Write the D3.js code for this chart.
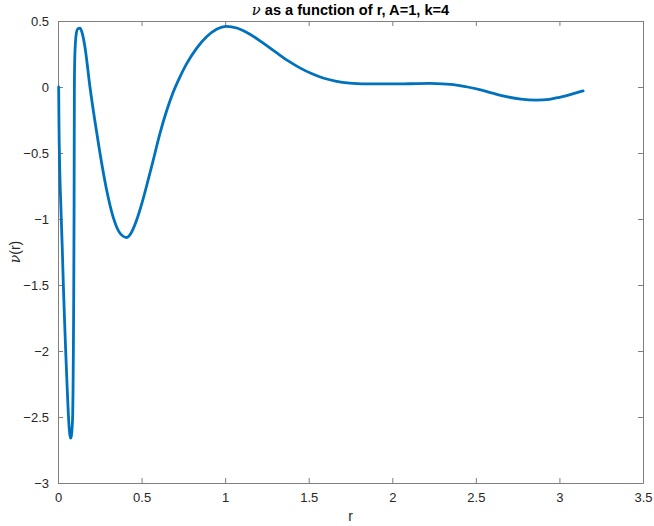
<!DOCTYPE html>
<html><head><meta charset="utf-8">
<script src="https://cdn.jsdelivr.net/npm/d3@7"></script>
<style>
body{margin:0;background:#fff;}
text{font-family:"Liberation Sans",Arial,Helvetica,sans-serif;}
</style></head>
<body><svg id="c" width="654" height="526"></svg>
<script>
const rValues = [0.004,0.006,0.010,0.017,0.025,0.032,0.039,0.046,0.054,0.062,0.068,0.072,0.076,0.080,0.084,0.088,0.090,0.092,0.094,0.095,0.096,0.097,0.098,0.100,0.104,0.110,0.118,0.1315,0.142,0.161,0.191,0.221,0.251,0.291,0.331,0.371,0.411,0.440,0.470,0.500,0.530,0.570,0.610,0.650,0.689,0.729,0.769,0.829,0.889,0.949,1.008,1.070,1.148,1.230,1.307,1.380,1.447,1.520,1.586,1.660,1.745,1.850,1.925,2.044,2.150,2.224,2.300,2.383,2.450,2.522,2.600,2.682,2.770,2.861,2.940,3.000,3.070,3.1416];
const nuValues = [0.000,-0.300,-0.600,-0.900,-1.200,-1.500,-1.760,-2.000,-2.250,-2.480,-2.600,-2.645,-2.660,-2.645,-2.590,-2.480,-2.300,-2.000,-1.600,-1.300,-1.000,-0.500,0.000,0.200,0.330,0.410,0.440,0.446,0.420,0.305,0.002,-0.260,-0.500,-0.780,-0.990,-1.108,-1.140,-1.100,-1.010,-0.890,-0.750,-0.553,-0.351,-0.180,-0.040,0.075,0.175,0.293,0.381,0.437,0.460,0.447,0.400,0.330,0.260,0.196,0.145,0.100,0.068,0.045,0.030,0.024,0.023,0.023,0.026,0.027,0.024,0.015,0.000,-0.020,-0.047,-0.073,-0.092,-0.099,-0.093,-0.078,-0.056,-0.030];
const xTicks = [0,0.5,1,1.5,2,2.5,3,3.5];
const yTicks = [-3,-2.5,-2,-1.5,-1,-0.5,0,0.5];
const titleText = " as a function of r, A=1, k=4";
const xLabel = "r";

const svg = d3.select("#c");
const L=58,R=643,T=21,B=483;
const x = d3.scaleLinear().domain([0,3.5]).range([L,R]);
const y = d3.scaleLinear().domain([-3,0.5]).range([B,T]);
const axisColor="#7f7f7f", textColor="#262626";

svg.append("rect").attr("width",654).attr("height",526).attr("fill","#fff");

const gx = svg.append("g").attr("transform",`translate(0,${B})`)
  .call(d3.axisBottom(x).tickValues(xTicks).tickSizeInner(-5).tickSizeOuter(0).tickPadding(10).tickFormat(d3.format("")));
const gxt = svg.append("g").attr("transform",`translate(0,${T})`)
  .call(d3.axisTop(x).tickValues(xTicks).tickSizeInner(-5).tickSizeOuter(0).tickFormat(""));
const gy = svg.append("g").attr("transform",`translate(${L},0)`)
  .call(d3.axisLeft(y).tickValues(yTicks).tickSizeInner(-5).tickSizeOuter(0).tickPadding(9).tickFormat(d3.format("")));
const gyr = svg.append("g").attr("transform",`translate(${R},0)`)
  .call(d3.axisRight(y).tickValues(yTicks).tickSizeInner(-5).tickSizeOuter(0).tickFormat(""));
[gx,gxt,gy,gyr].forEach(g=>{
  g.select(".domain").attr("stroke",axisColor).attr("stroke-width",1);
  g.selectAll(".tick line").attr("stroke",axisColor);
  g.selectAll(".tick text").attr("fill",textColor).attr("font-size",13).attr("font-family","'Liberation Sans',Arial,sans-serif");
});

const line = d3.line().x((d,i)=>x(rValues[i])).y(d=>y(d)).curve(d3.curveMonotoneX);
svg.append("path").datum(nuValues).attr("d",line).attr("fill","none")
  .attr("stroke","#0072BD").attr("stroke-width",2.8).attr("stroke-linejoin","round").attr("stroke-linecap","round");

const t = svg.append("text").attr("x",(L+R)/2).attr("y",15).attr("text-anchor","middle")
  .attr("font-size",14.6).attr("font-weight","bold").attr("fill","#000");
t.append("tspan").attr("font-style","italic").attr("font-weight","normal").attr("font-family","'DejaVu Serif',serif").text("ν");
t.append("tspan").text(titleText);

svg.append("text").attr("x",(L+R)/2).attr("y",521).attr("text-anchor","middle")
  .attr("font-size",14).attr("fill",textColor).text(xLabel);
const yl = svg.append("text").attr("transform",`translate(20,${(T+B)/2}) rotate(-90)`).attr("text-anchor","middle")
  .attr("font-size",14).attr("fill",textColor);
yl.append("tspan").attr("font-style","italic").attr("font-family","'DejaVu Serif',serif").text("ν");
yl.append("tspan").text("(r)");
</script></body></html>
